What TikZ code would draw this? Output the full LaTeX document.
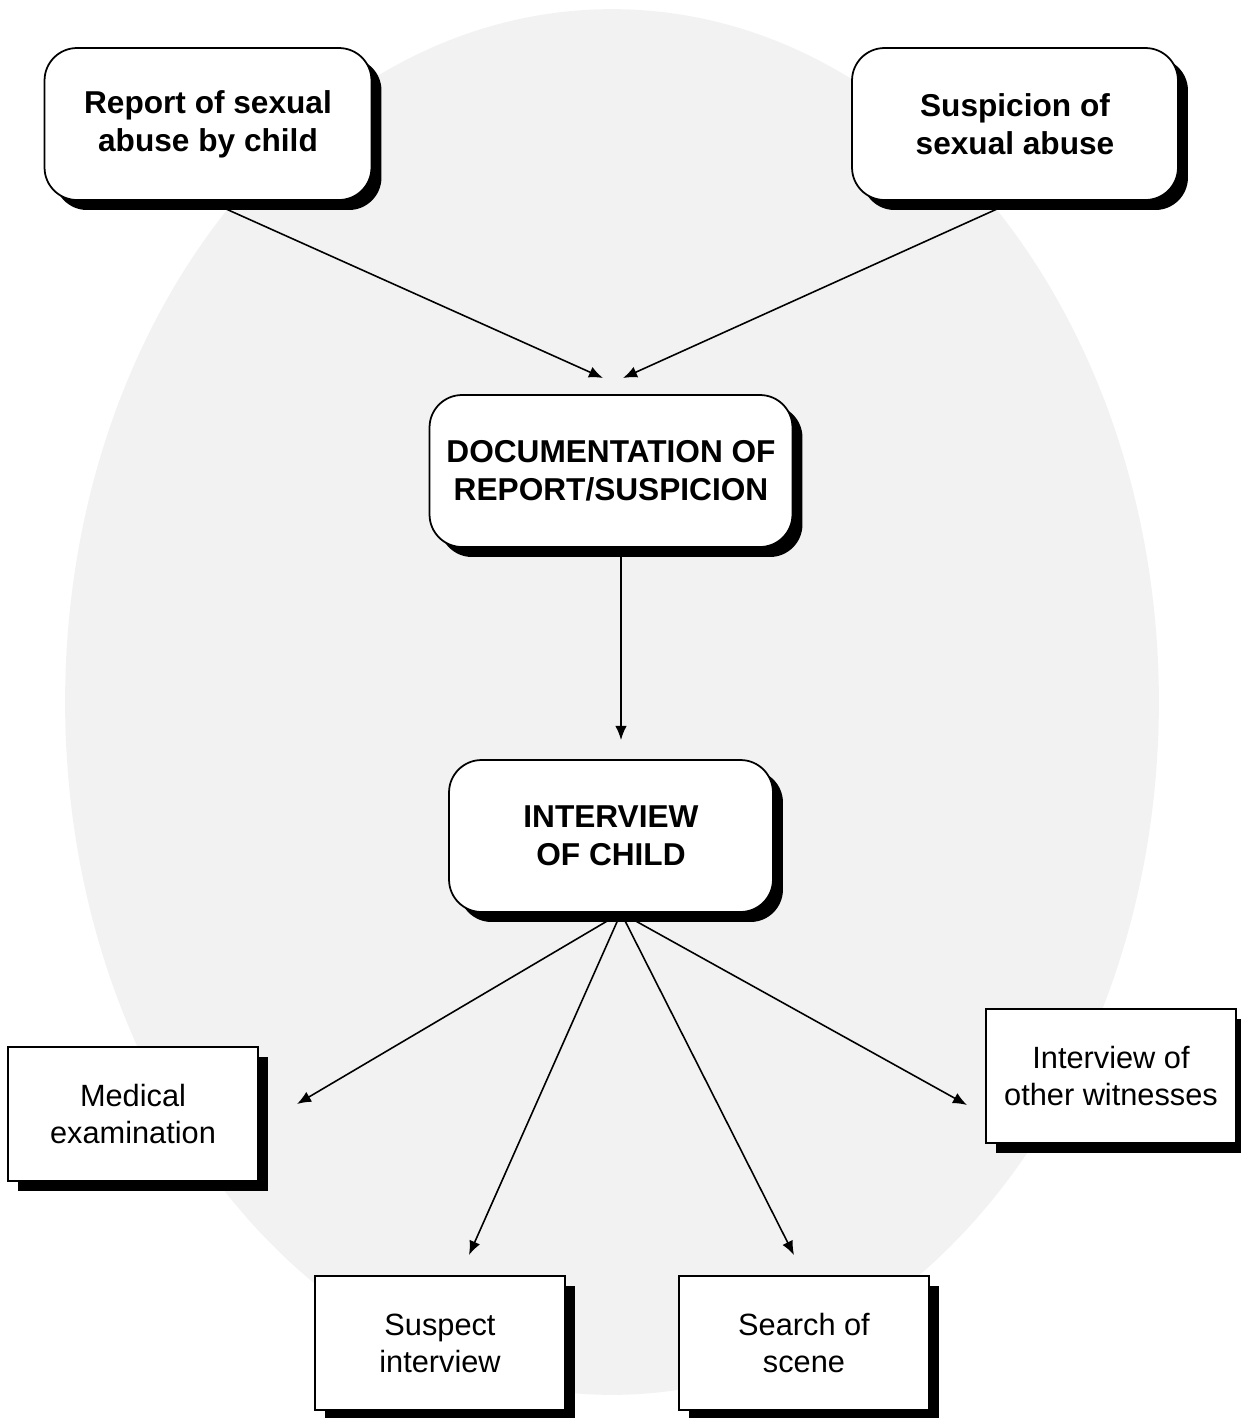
\documentclass[tikz,border=0pt]{standalone}
\usepackage{fontspec}
\setmainfont{Liberation Sans}
\usepackage{tikz}
\usetikzlibrary{positioning,shadows,arrows.meta}
\definecolor{ellgray}{HTML}{F2F2F2}

\begin{document}
\begin{tikzpicture}[x=0.02cm,y=-0.02cm]
\tikzstyle{bigbox}=[rectangle, rounded corners=0.65cm, draw=black, line width=1pt, fill=white, align=center, font=\fontsize{18}{21.5}\selectfont\bfseries, minimum height=3.04cm, drop shadow={shadow xshift=0.2cm, shadow yshift=-0.2cm, fill=black, opacity=1}]
\tikzstyle{smallbox}=[rectangle, draw=black, line width=1pt, fill=white, align=center, font=\fontsize{17.5}{21}\selectfont, minimum width=5cm, minimum height=2.68cm, drop shadow={shadow xshift=0.2cm, shadow yshift=-0.2cm, fill=black, opacity=1}]
\tikzstyle{connect}=[-{Latex[length=8pt,width=6.5pt]}, line width=0.9pt]

	\useasboundingbox (0,0) rectangle (1241,1418);
	\fill[ellgray] (612,702) ellipse [x radius=10.94cm, y radius=13.86cm];

	\node[bigbox, minimum width=6.54cm] (top_1) at (208,124) {Report of sexual\\abuse by child};
	\node[bigbox, minimum width=6.52cm] (top_2) at (1015,124) {Suspicion of\\sexual abuse};
	\node[bigbox, minimum width=7.26cm] (doc) at (611,471) {DOCUMENTATION OF\\REPORT/SUSPICION};
	\node[bigbox, minimum width=6.48cm] (int) at (611,836) {INTERVIEW\\OF CHILD};

	\node[smallbox] (out_1) at (133,1114) {Medical\\examination};
	\node[smallbox] (out_2) at (440,1343) {Suspect\\interview};
	\node[smallbox] (out_3) at (804,1343) {Search of\\scene};
	\node[smallbox] (out_4) at (1111,1076) {Interview of\\other witnesses};

	\coordinate (in_1) at (603,378);
	\coordinate (in_2) at (623,378);
	\coordinate (in_3) at (621,740);
	\coordinate (in_4) at (297,1104);
	\coordinate (in_5) at (469,1255);
	\coordinate (in_6) at (794,1255);
	\coordinate (in_7) at (967,1105);

	\path
	 (top_1.south) edge[connect] (in_1)
	 (top_2.south) edge[connect] (in_2)
	 ([shift={(10,0)}]doc.south) edge[connect] (in_3)
	 ([shift={(10,0)}]int.south) edge[connect] (in_4)
	 ([shift={(10,0)}]int.south) edge[connect] (in_5)
	 ([shift={(10,0)}]int.south) edge[connect] (in_6)
	 ([shift={(10,0)}]int.south) edge[connect] (in_7);

\end{tikzpicture}
\end{document}
